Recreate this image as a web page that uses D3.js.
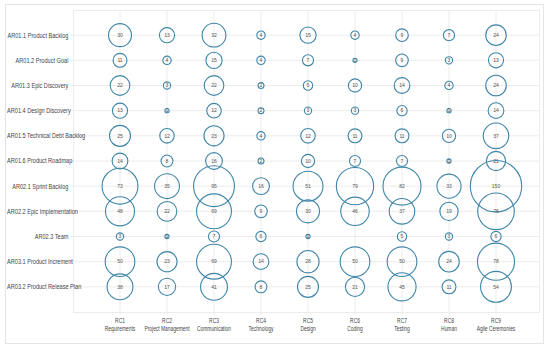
<!DOCTYPE html>
<html>
<head>
<meta charset="utf-8">
<script src="https://cdn.jsdelivr.net/npm/d3@7"></script>
<style>
  body { margin: 0; background: #fff; }
  svg { display: block; }
</style>
</head>
<body>
<div id="chart"></div>
<script>
// rows (y axis) and columns (x axis)
var rowLabels = [
  'AR01.1 Product Backlog', 'AR01.2 Product Goal', 'AR01.3 Epic Discovery',
  'AR01.4 Design Discovery', 'AR01.5 Technical Debt Backlog', 'AR01.6 Product Roadmap',
  'AR02.1 Sprint Backlog', 'AR02.2 Epic Implementation', 'AR02.3 Team',
  'AR03.1 Product Increment', 'AR03.2 Product Release Plan'
];
var colCodes = ['RC1', 'RC2', 'RC3', 'RC4', 'RC5', 'RC6', 'RC7', 'RC8', 'RC9'];
var colNames = ['Requirements', 'Project Management', 'Communication', 'Technology',
  'Design', 'Coding', 'Testing', 'Human', 'Agile Ceremonies'];

// counts per row, one value per column (null = no bubble)
var counts = [
  [30, 13, 32, 4, 15, 4, 9, 7, 24],
  [11, 4, 15, 4, 7, 1, 9, 3, 13],
  [22, 3, 22, 2, 5, 10, 14, 4, 24],
  [13, 1, 12, 2, 3, 3, 6, 1, 14],
  [25, 12, 23, 4, 12, 11, 11, 10, 37],
  [14, 8, 16, 2, 10, 7, 7, 1, 21],
  [73, 35, 95, 16, 51, 79, 82, 33, 150],
  [48, 22, 69, 9, 30, 46, 37, 19, 76],
  [3, 1, 7, 6, 1, null, 5, 3, 6],
  [50, 23, 69, 14, 28, 50, 50, 24, 78],
  [38, 17, 41, 8, 25, 21, 45, 11, 54]
];

var width = 550, height = 349;
var plot = {left: 73, top: 10, right: 539, bottom: 312};
var fontFam = '"Liberation Sans", Arial, sans-serif';
var squeeze = 0.8; // the original font is a condensed one

var svg = d3.select('#chart').append('svg')
  .attr('width', width).attr('height', height);

// outer frame
svg.append('rect')
  .attr('x', 5.5).attr('y', 4.5)
  .attr('width', 538).attr('height', 339)
  .attr('fill', '#fff')
  .attr('stroke', '#e4e4e4');

var x = d3.scalePoint().domain(colCodes).range([plot.left, plot.right + 4]).padding(1);
var y = d3.scalePoint().domain(rowLabels).range([plot.top, plot.bottom]).padding(1);
var r = d3.scaleSqrt().domain([0, 150]).range([0, 25.7]);

var g = svg.append('g');

// plot border
g.append('rect')
  .attr('x', plot.left + 0.5).attr('y', plot.top + 0.5)
  .attr('width', plot.right - plot.left).attr('height', plot.bottom - plot.top)
  .attr('fill', 'none')
  .attr('stroke', '#ececec');

// grid
g.append('g').selectAll('line')
  .data(colCodes)
  .enter().append('line')
  .attr('x1', function (d) { return x(d); })
  .attr('x2', function (d) { return x(d); })
  .attr('y1', plot.top).attr('y2', plot.bottom + 3)
  .attr('stroke', '#ececec');

g.append('g').selectAll('line')
  .data(rowLabels)
  .enter().append('line')
  .attr('x1', plot.left - 3).attr('x2', plot.right)
  .attr('y1', function (d) { return y(d); })
  .attr('y2', function (d) { return y(d); })
  .attr('stroke', '#ececec');

// row labels: right aligned, but long ones pinned to the left edge
var rowText = g.append('g').selectAll('text')
  .data(rowLabels)
  .enter().append('text')
  .attr('dy', '0.35em')
  .attr('font-family', fontFam)
  .attr('font-size', 7)
  .attr('fill', '#444')
  .text(function (d) { return d; });
rowText.each(function (d) {
  var w = this.getComputedTextLength() * squeeze;
  var tx = Math.max(7, 68.5 - w);
  d3.select(this)
    .attr('transform', 'translate(' + tx + ',' + y(d) + ') scale(' + squeeze + ',1)');
});

// column labels, two lines each
var colText = g.append('g').selectAll('text')
  .data(colCodes)
  .enter().append('text')
  .attr('transform', function (d) {
    return 'translate(' + x(d) + ',0) scale(0.78,1)';
  })
  .attr('text-anchor', 'middle')
  .attr('font-family', fontFam)
  .attr('font-size', 6.3)
  .attr('fill', '#444');
colText.append('tspan')
  .attr('x', 0)
  .attr('y', 323)
  .text(function (d) { return d; });
colText.append('tspan')
  .attr('x', 0)
  .attr('y', 331.5)
  .text(function (d, i) { return colNames[i]; });

// bubbles
var cells = [];
counts.forEach(function (row, i) {
  row.forEach(function (v, j) {
    if (v != null) cells.push({row: rowLabels[i], col: colCodes[j], value: v});
  });
});

var bubbles = g.append('g').selectAll('g')
  .data(cells)
  .enter().append('g')
  .attr('transform', function (d) {
    return 'translate(' + x(d.col) + ',' + y(d.row) + ')';
  });

bubbles.append('circle')
  .attr('r', function (d) { return r(d.value); })
  .attr('fill', 'none')
  .attr('stroke', '#3f86a8')
  .attr('stroke-width', 1.1);

bubbles.append('text')
  .attr('text-anchor', 'middle')
  .attr('dy', '0.35em')
  .attr('font-family', fontFam)
  .attr('font-size', 5)
  .attr('fill', '#555')
  .text(function (d) { return d.value; });
</script>
</body>
</html>
